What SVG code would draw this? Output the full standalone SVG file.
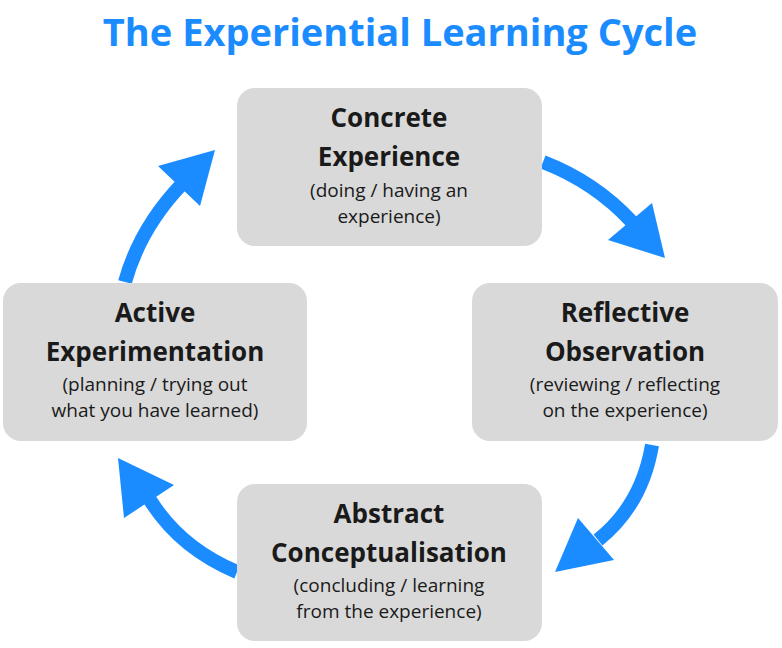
<svg xmlns="http://www.w3.org/2000/svg" width="782" height="648" viewBox="0 0 782 648">
<style>
.box{fill:#d9d9d9}
.t{font-family:"Open Sans","Liberation Sans",sans-serif;font-weight:bold;font-size:26px;fill:#1a1a1a;text-anchor:middle}
.s{font-family:"Open Sans","Liberation Sans",sans-serif;font-size:19px;fill:#1a1a1a;text-anchor:middle}
.a{fill:none;stroke:#1a8cff;stroke-width:14}
.h{fill:#1a8cff}
</style>
<rect width="782" height="648" fill="#fff"/>
<text x="400" y="46" font-family="'Open Sans','Liberation Sans',sans-serif" font-weight="bold" font-size="38" fill="#1a8cff" text-anchor="middle">The Experiential Learning Cycle</text>
<g id="connectors">
<path class="a" d="M543,162 Q595,182 632,222"/><polygon class="h" points="665,258 608,240 652,203"/>
<path class="a" d="M652,445 Q642,505 598,540"/><polygon class="h" points="555,572 578,518 614,560"/>
<path class="a" d="M237,572 Q180,548 150,500"/><polygon class="h" points="118,458 124,518 174,485"/>
<path class="a" d="M125,282 Q140,228 182,184"/><polygon class="h" points="215,150 158,166 200,206"/>
</g>
<g id="concrete"><rect class="box" x="237" y="88" width="305" height="158" rx="18"/>
<text class="t" x="389" y="127">Concrete</text><text class="t" x="389" y="166">Experience</text>
<text class="s" x="389" y="197">(doing / having an</text><text class="s" x="389" y="223">experience)</text></g>
<g id="reflective"><rect class="box" x="472" y="283" width="306" height="158" rx="18"/>
<text class="t" x="625" y="322">Reflective</text><text class="t" x="625" y="361">Observation</text>
<text class="s" x="625" y="391">(reviewing / reflecting</text><text class="s" x="625" y="417">on the experience)</text></g>
<g id="abstract"><rect class="box" x="237" y="484" width="305" height="157" rx="18"/>
<text class="t" x="389" y="523">Abstract</text><text class="t" x="389" y="562">Conceptualisation</text>
<text class="s" x="389" y="592">(concluding / learning</text><text class="s" x="389" y="618">from the experience)</text></g>
<g id="active"><rect class="box" x="3" y="283" width="304" height="158" rx="18"/>
<text class="t" x="155" y="322">Active</text><text class="t" x="155" y="361">Experimentation</text>
<text class="s" x="155" y="391">(planning / trying out</text><text class="s" x="155" y="417">what you have learned)</text></g>
</svg>
